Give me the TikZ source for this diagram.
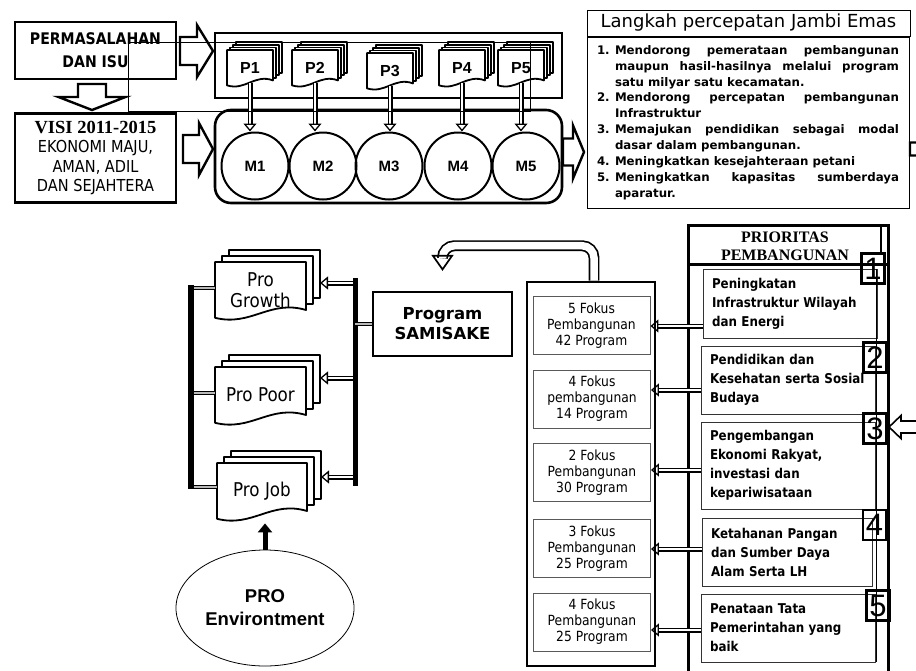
\documentclass[tikz,border=0pt]{standalone}
\usepackage{fontspec}
\setmainfont{DejaVu Sans}
\newfontfamily\tahoma{DejaVu Sans}[FakeStretch=0.88]
\newfontfamily\arialf{Liberation Sans}
\newfontfamily\cambria{Liberation Serif}
\usetikzlibrary{arrows.meta,shapes.geometric}

\tikzset{
  thickbox/.style={draw,line width=2.6pt,inner sep=0pt,align=center},
  blockline/.style={draw,line width=2.4pt,fill=white,line join=miter},
  docline/.style={draw,line width=1.8pt,fill=white,line join=round},
  ptext/.style={inner sep=0pt,font=\arialf\bfseries\fontsize{16}{18}\selectfont},
  protext/.style={inner sep=0pt,align=center,font=\tahoma\fontsize{19}{21}\selectfont},
  mcirc/.style={circle,draw,line width=2pt,minimum size=67pt,inner sep=0pt,font=\arialf\bfseries\fontsize{15}{17}\selectfont},
  hollow/.style={double=white,double distance=2.4pt,line width=1.3pt,-{Triangle[open,length=8pt,width=13pt]}},
  link/.style={double=gray!55,double distance=2pt,line width=1.4pt},
  bentarrow/.style={double=white,double distance=7.5pt,line width=1.7pt,rounded corners=12pt,-{Triangle[open,length=16pt,width=22pt]}},
  fokusbox/.style={draw=black!65,line width=0.9pt,minimum width=117pt,minimum height=58pt,inner sep=0pt,align=center,font=\tahoma\fontsize{14}{16}\selectfont},
  prbox/.style={draw=black!80,line width=0.9pt,inner xsep=9pt,minimum height=68pt,align=left,font=\tahoma\bfseries\fontsize{13.5}{19}\selectfont},
  numbox/.style={draw,line width=2.4pt,minimum width=23pt,minimum height=30pt,inner sep=0pt,font=\arialf\fontsize{31}{31}\selectfont},
  bar/.style={line width=5pt},
}

% stacked document: name, x, y, width, height, step, layers, style, text
\newcommand{\docstack}[9]{%
  \foreach \k in {#7,...,1}
    \draw[docline] ({#2+\k*#6},{#3-0.85*\k*#6}) rectangle ({#2+#4+\k*#6},{#3+0.8*#5-0.85*\k*#6});
  \draw[docline] (#2,#3) -- ({#2+#4},#3) -- ({#2+#4},{#3+0.8*#5})
    .. controls ({#2+0.6*#4},{#3+0.62*#5}) and ({#2+0.4*#4},{#3+1.08*#5}) .. (#2,{#3+0.93*#5}) -- cycle;
  \node[#8,minimum width=#4pt,minimum height=0.8*#5pt] (#1) at ({#2+0.5*#4},{#3+0.47*#5}) {#9};
  \coordinate (#1-r) at ({#2+#4+#7*#6},#3);
}
% block arrow: name, tail, angle, length, shaft half, head half, head length
\newcommand{\blockarrow}[8][]{%
  \begin{scope}[shift={#3},rotate=#4]
    \draw[blockline,#1] (0,-#6) -- ({#5-#8},-#6) -- ({#5-#8},-#7) -- (#5,0) -- ({#5-#8},#7) -- ({#5-#8},#6) -- (0,#6) -- cycle;
    \coordinate (#2) at ({#5/2},0);
  \end{scope}
}
\newcommand{\lstep}[1]{\noindent\hangindent=18pt\hangafter=1\makebox[18pt][l]{#1}}

\begin{document}
\begin{tikzpicture}[x=1pt,y=-1pt]
\useasboundingbox (0,0) rectangle (916,670);

% top left
\node[thickbox,minimum width=161pt,minimum height=57pt,font=\tahoma\bfseries\fontsize{16}{23}\selectfont] (perm) at (95.5,50.5) {PERMASALAHAN\\DAN ISU};
\node[thickbox,minimum width=161pt,minimum height=89pt,font=\tahoma\fontsize{16.5}{19.5}\selectfont] (visi) at (95.5,158)
  {{\cambria\bfseries\fontsize{18.5}{19.5}\selectfont VISI 2011-2015}\\EKONOMI MAJU,\\AMAN, ADIL\\DAN SEJAHTERA};
\blockarrow{arrd}{(92,84)}{-90}{26}{14}{33.5}{13}
\blockarrow{arr1}{(180,51)}{0}{33}{14}{26}{16}
\blockarrow{arr2}{(183,149)}{0}{30}{14}{26}{14}

% panels
\node[thickbox,minimum width=347pt,minimum height=65pt] (ppanel) at (388.5,65.5) {};
\node[thickbox,rounded corners=16pt,minimum width=347pt,minimum height=93pt] (mpanel) at (388.5,156.5) {};
\docstack{P1}{227}{50}{46}{38}{3}{3}{ptext}{P1}
\docstack{P2}{292}{50}{46}{38}{3}{3}{ptext}{P2}
\docstack{P3}{367}{53}{46}{38}{3}{3}{ptext}{P3}
\docstack{P4}{439}{50}{46}{38}{3}{3}{ptext}{P4}
\docstack{P5}{498}{50}{46}{38}{3}{3}{ptext}{P5}
\foreach \i/\x in {1/255,2/323,3/389,4/458,5/526}
  \node[mcirc] (M\i) at (\x,166) {M\i};
\foreach \i in {1,...,5}
  \draw[hollow] (P\i.south) -- (P\i.south |- M\i.north);
\blockarrow{arr3}{(563,152)}{0}{21}{13.5}{26.5}{11}

% langkah
\node[draw,line width=0.9pt,minimum width=323pt,minimum height=26pt,font=\fontsize{18}{20}\selectfont] (ltitle) at (748.5,23) {Langkah percepatan Jambi Emas};
\node[draw,line width=0.9pt,minimum height=171pt,text width=302pt,inner xsep=10pt,align=justify,font=\bfseries\fontsize{11.8}{15.9}\selectfont] (langkah) at (748,122.5)
  {\hyphenpenalty=10000\exhyphenpenalty=10000
   \lstep{1.}Mendorong pemerataan pembangunan\linebreak maupun hasil-hasilnya melalui program\linebreak satu milyar satu kecamatan.\par
   \lstep{2.}Mendorong percepatan pembangunan\linebreak Infrastruktur\par
   \lstep{3.}Memajukan pendidikan sebagai modal\linebreak dasar dalam pembangunan.\par
   \lstep{4.}Meningkatkan kesejahteraan petani\par
   \lstep{5.}Meningkatkan kapasitas sumberdaya\linebreak aparatur.\par};
\blockarrow{arrout}{(910,149)}{0}{50}{6.5}{14}{10}

% pro docs
\docstack{growth}{215}{262}{91}{60}{7}{2}{protext}{Pro\\Growth}
\docstack{poor}{215}{367}{91}{60}{7}{2}{protext}{Pro Poor}
\docstack{job}{217}{463}{90}{60}{7}{2}{protext}{Pro Job}
\coordinate (rbtop) at (355,278);
\coordinate (rbbot) at (355,486);
\coordinate (lbtop) at (191,285);
\coordinate (lbbot) at (191,489);
\coordinate (rb1) at (355,283);
\coordinate (rb2) at (355,378);
\coordinate (rb3) at (355,477);
\coordinate (lb1) at (191,288);
\coordinate (lb2) at (191,393);
\coordinate (lb3) at (191,487);
\draw[hollow] (rb1) -- (rb1 -| growth-r);
\draw[hollow] (rb2) -- (rb2 -| poor-r);
\draw[hollow] (rb3) -- (rb3 -| job-r);
\draw[link] (lb1) -- (lb1 -| growth.west);
\draw[link] (lb2) -- (lb2 -| poor.west);
\draw[link] (lb3) -- (lb3 -| job.west);
\draw[bar] (rbtop) -- (rbbot);
\draw[line width=6pt] (lbtop) -- (lbbot);

\node[thickbox,line width=2.2pt,minimum width=139pt,minimum height=64pt,font=\bfseries\fontsize{16.5}{20}\selectfont] (prog) at (442.5,324) {Program\\SAMISAKE};
\draw[link] (prog.west) -- (prog.west -| rbtop);
\node[ellipse,draw,line width=0.8pt,minimum width=148pt,minimum height=116pt,align=center,font=\arialf\bfseries\fontsize{18.5}{23}\selectfont] (env) at (265,608) {PRO\\Environtment};
\coordinate (jobtip) at ([yshift=-8pt]job.south);
\draw[line width=5pt,-{Triangle[length=9pt,width=14pt]}] (env.north) -- (env.north |- jobtip);

% fokus column
\coordinate (bendtip) at ([yshift=20pt]prog.north);
\node[thickbox,minimum width=128pt,minimum height=384pt] (fokcol) at (591,474) {};
\draw[bentarrow] ([xshift=3pt]fokcol.north) -- ++(0,-35) -| (bendtip);
\node[fokusbox] (fk1) at (591.5,325.5) {5 Fokus\\Pembangunan\\42 Program};
\node[fokusbox] (fk2) at (592,399) {4 Fokus\\pembangunan\\14 Program};
\node[fokusbox] (fk3) at (592,472.5) {2 Fokus\\Pembangunan\\30 Program};
\node[fokusbox] (fk4) at (592,548.5) {3 Fokus\\Pembangunan\\25 Program};
\node[fokusbox] (fk5) at (592,622) {4 Fokus\\Pembangunan\\25 Program};

% prioritas column
\draw[line width=3pt] (688,690) -- (688,225) -- (888,225) -- (888,690);
\draw[line width=3pt] (688,264) -- (888,264);
\draw[line width=2pt] (881,225) -- (881,253);
\node[align=center,font=\cambria\bfseries\fontsize{16}{18}\selectfont] (prhead) at (785,246) {PRIORITAS\\PEMBANGUNAN};
\node[prbox,text width=156pt,minimum height=69pt] (pr1) at (790,303.5) {Peningkatan\\Infrastruktur Wilayah\\dan Energi};
\node[prbox,text width=156pt] (pr2) at (788,380) {Pendidikan dan\\Kesehatan serta Sosial\\Budaya};
\node[prbox,text width=156pt,minimum height=87pt] (pr3) at (788,465.5) {Pengembangan\\Ekonomi Rakyat,\\investasi dan\\kepariwisataan};
\node[prbox,text width=152pt] (pr4) at (787,552) {Ketahanan Pangan\\dan Sumber Daya\\Alam Serta LH};
\node[prbox,text width=156pt] (pr5) at (788,628) {Penataan Tata\\Pemerintahan yang\\baik};
\draw[line width=0.8pt] (876,269) -- (876,662);
\node[numbox] (n1) at (873,268.5) {1};
\node[numbox] (n2) at (875,357.5) {2};
\node[numbox] (n3) at (875,428.5) {3};
\node[numbox] (n4) at (874.5,525) {4};
\node[numbox] (n5) at (878,605.5) {5};
\foreach \i/\y in {1/326,2/390,3/470,4/549,5/630}
  \draw[hollow] (pr\i.west |- 0,\y) -- (fk\i.east |- 0,\y);
\blockarrow[line width=1.6pt]{arrin}{(940,427)}{180}{51}{6}{11.5}{12}

% thin frame
\draw[line width=0.7pt] (128,42) rectangle (530,111);
\end{tikzpicture}
\end{document}
